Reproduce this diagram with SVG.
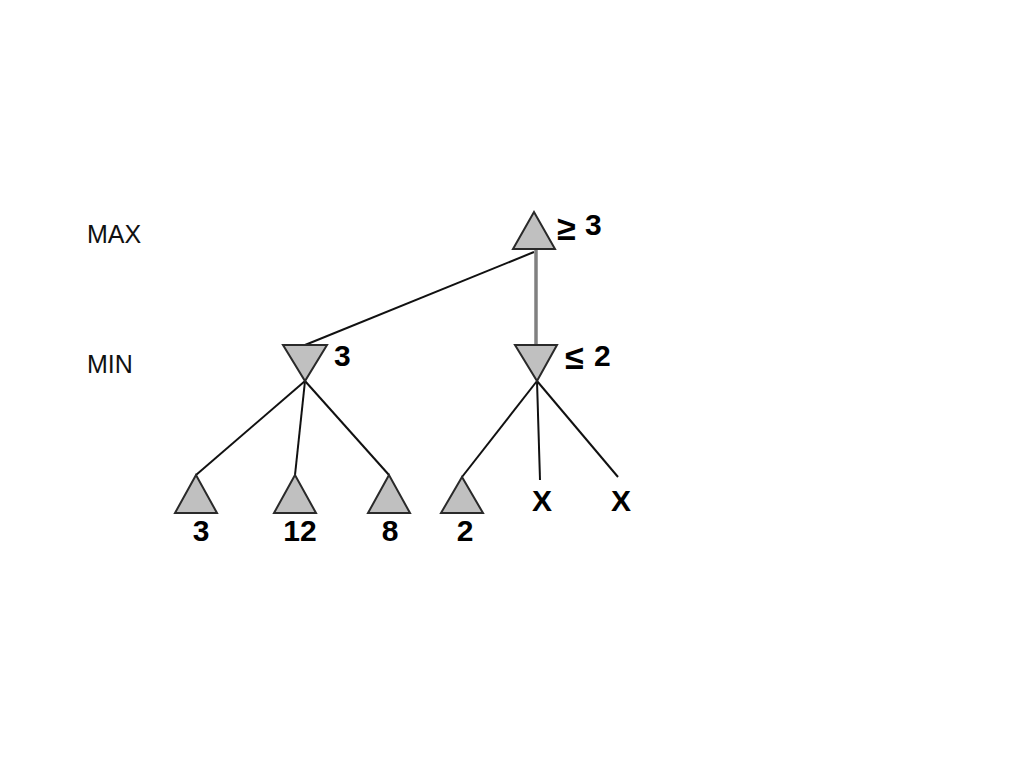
<svg xmlns="http://www.w3.org/2000/svg" width="1024" height="768" viewBox="0 0 1024 768">
<style>
.tri{fill:#c0c0c0;stroke:#2a2a2a;stroke-width:2;stroke-linejoin:miter}
.edge{stroke:#111;stroke-width:2;fill:none}
.lvl{font-family:"Liberation Sans",Arial,sans-serif;font-size:25px;fill:#111}
.val{font-family:"Liberation Sans",Arial,sans-serif;font-size:30px;font-weight:bold;fill:#000}
.rel{font-size:34px}
</style>
<rect width="1024" height="768" fill="#fff"/>
<g id="connectors">
<line class="edge" x1="534" y1="252" x2="305" y2="345"/>
<line x1="536" y1="250" x2="536" y2="344" stroke="#808080" stroke-width="3.5"/>
<line class="edge" x1="305" y1="381" x2="196" y2="475"/>
<line class="edge" x1="305" y1="381" x2="295" y2="475"/>
<line class="edge" x1="305" y1="381" x2="389" y2="475"/>
<line class="edge" x1="537" y1="381" x2="462" y2="477"/>
<line class="edge" x1="537" y1="381" x2="540" y2="480" stroke-width="2.5"/>
<line class="edge" x1="537" y1="381" x2="618" y2="477"/>
</g>
<g id="labels">
<text class="lvl" x="87" y="243">MAX</text>
<text class="lvl" x="87" y="373">MIN</text>
</g>
<g id="root">
<polygon class="tri" points="534,212 513,249 555,249"/>
<text class="val" x="557" y="240"><tspan class="rel">≥</tspan><tspan x="585" y="235">3</tspan></text>
</g>
<g id="minA">
<polygon class="tri" points="283,345 327,345 305,381"/>
<text class="val" x="334" y="366">3</text>
</g>
<g id="minB">
<polygon class="tri" points="515,345 557,345 537,381"/>
<text class="val" x="565" y="369"><tspan class="rel">≤</tspan><tspan x="594" y="366">2</tspan></text>
</g>
<g id="leaf1">
<polygon class="tri" points="196,475 175,513 217,513"/>
<text class="val" x="201" y="541" text-anchor="middle">3</text>
</g>
<g id="leaf2">
<polygon class="tri" points="295,475 274,513 316,513"/>
<text class="val" x="300" y="541" text-anchor="middle">12</text>
</g>
<g id="leaf3">
<polygon class="tri" points="389,475 368,513 410,513"/>
<text class="val" x="390" y="541" text-anchor="middle">8</text>
</g>
<g id="leaf4">
<polygon class="tri" points="462,477 441,513 483,513"/>
<text class="val" x="465" y="541" text-anchor="middle">2</text>
</g>
<g id="leaf5">
<text class="val" x="542" y="511" text-anchor="middle">X</text>
</g>
<g id="leaf6">
<text class="val" x="621" y="511" text-anchor="middle">X</text>
</g>
</svg>
